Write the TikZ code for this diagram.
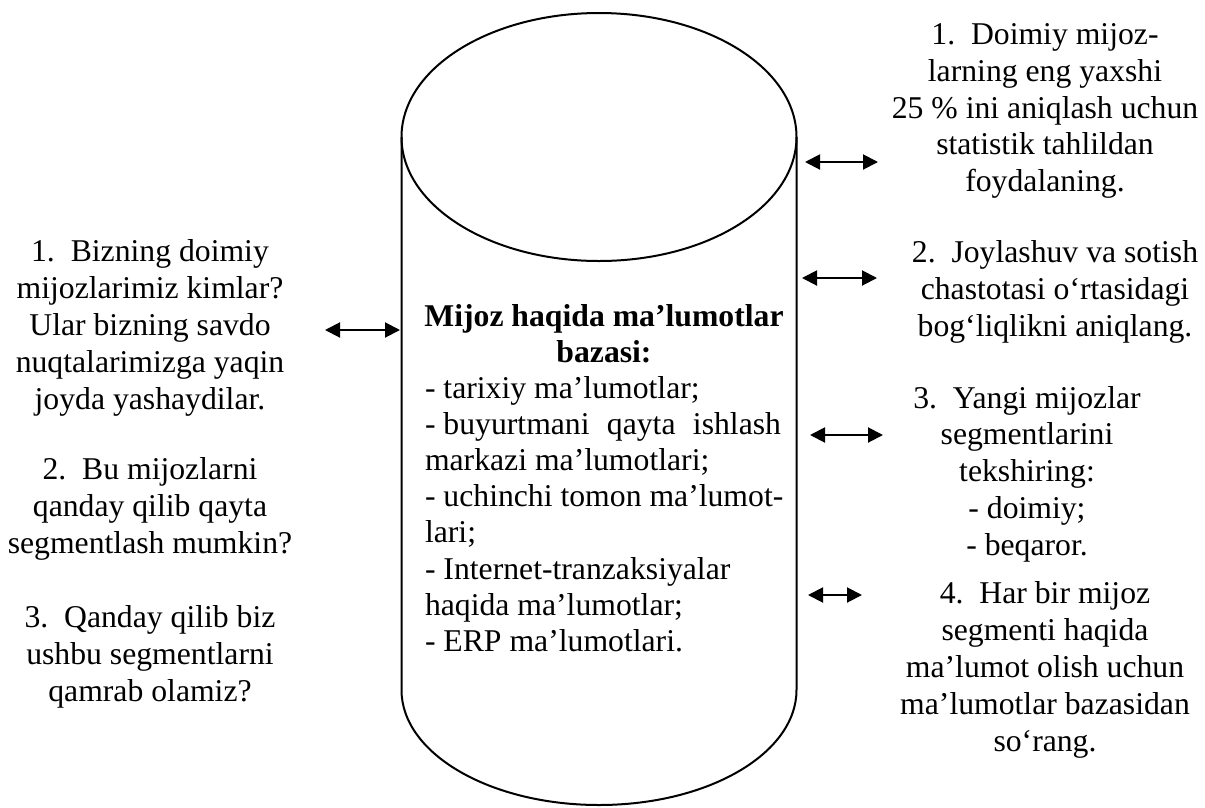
\documentclass[tikz,border=0pt]{standalone}
\usepackage{fontspec}
\setmainfont{Liberation Serif}
\usetikzlibrary{arrows.meta}
\begin{document}
\begin{tikzpicture}[x=1pt,y=-1pt,
  txt/.style={align=center,inner sep=0pt,font=\fontsize{31.7}{36.8}\selectfont},
  link/.style={line width=2pt,{Triangle[length=15pt,width=15pt]}-{Triangle[length=15pt,width=15pt]}},
  body/.style={line width=2pt}]
\useasboundingbox (0,0) rectangle (1205,807);

% database cylinder
\draw[body] (401.5,137) -- (401.5,690) arc[start angle=180,end angle=0,x radius=197.5,y radius=115] -- (796.5,137);
\draw[body] (599,137) ellipse[x radius=197.5,y radius=124];

% contents of the database
\node[inner sep=0pt,text width=366pt,align=flush left,font=\fontsize{31.7}{36.1}\selectfont] (db) at (608,478)
{\makebox[358pt][c]{\bfseries Mijoz haqida ma’lumotlar}\\
 \makebox[358pt][c]{\bfseries bazasi:}\\
 - tarixiy ma’lumotlar;\\
 \makebox[356pt][s]{-\hspace{0.25em}buyurtmani qayta ishlash}\\
 markazi ma’lumotlari;\\
 - uchinchi tomon ma’lumot-\\
 lari;\\
 - Internet-tranzaksiyalar\\
 haqida ma’lumotlar;\\
 - ERP ma’lumotlari.};

% questions on the left
\node[txt] (q1) at (150,328) {1.\ \ Bizning doimiy\\mijozlarimiz kimlar?\\Ular bizning savdo\\nuqtalarimizga yaqin\\joyda yashaydilar.};
\node[txt] (q2) at (150,509) {2.\ \ Bu mijozlarni\\qanday qilib qayta\\segmentlash mumkin?};
\node[txt] (q3) at (150,657) {3.\ \ Qanday qilib biz\\ushbu segmentlarni\\qamrab olamiz?};

% tasks on the right
\node[txt] (t1) at (1045,111) {1.\ \ Doimiy mijoz-\\larning eng yaxshi\\25 \% ini aniqlash uchun\\statistik tahlildan\\foydalaning.};
\node[txt] (t2) at (1055,292) {2.\ \ Joylashuv va sotish\\chastotasi o‘rtasidagi\\bog‘liqlikni aniqlang.};
\node[txt] (t3) at (1027,474) {3.\ \ Yangi mijozlar\\segmentlarini\\tekshiring:\\- doimiy;\\- beqaror.};
\node[txt] (t4) at (1045,670) {4.\ \ Har bir mijoz\\segmenti haqida\\ma’lumot olish uchun\\ma’lumotlar bazasidan\\so‘rang.};

% arrow ends
\coordinate (qa) at (325,330);  \coordinate (qb) at (400,330);
\coordinate (a1) at (805,162);  \coordinate (b1) at (878,162);
\coordinate (a2) at (802,278);  \coordinate (b2) at (877,278);
\coordinate (a3) at (810,435);  \coordinate (b3) at (883,435);
\coordinate (a4) at (808,595);  \coordinate (b4) at (862,595);

\draw[link] (qa) -- (qb);
\draw[link] (a1) -- (b1);
\draw[link] (a2) -- (b2);
\draw[link] (a3) -- (b3);
\draw[link] (a4) -- (b4);
\end{tikzpicture}
\end{document}
